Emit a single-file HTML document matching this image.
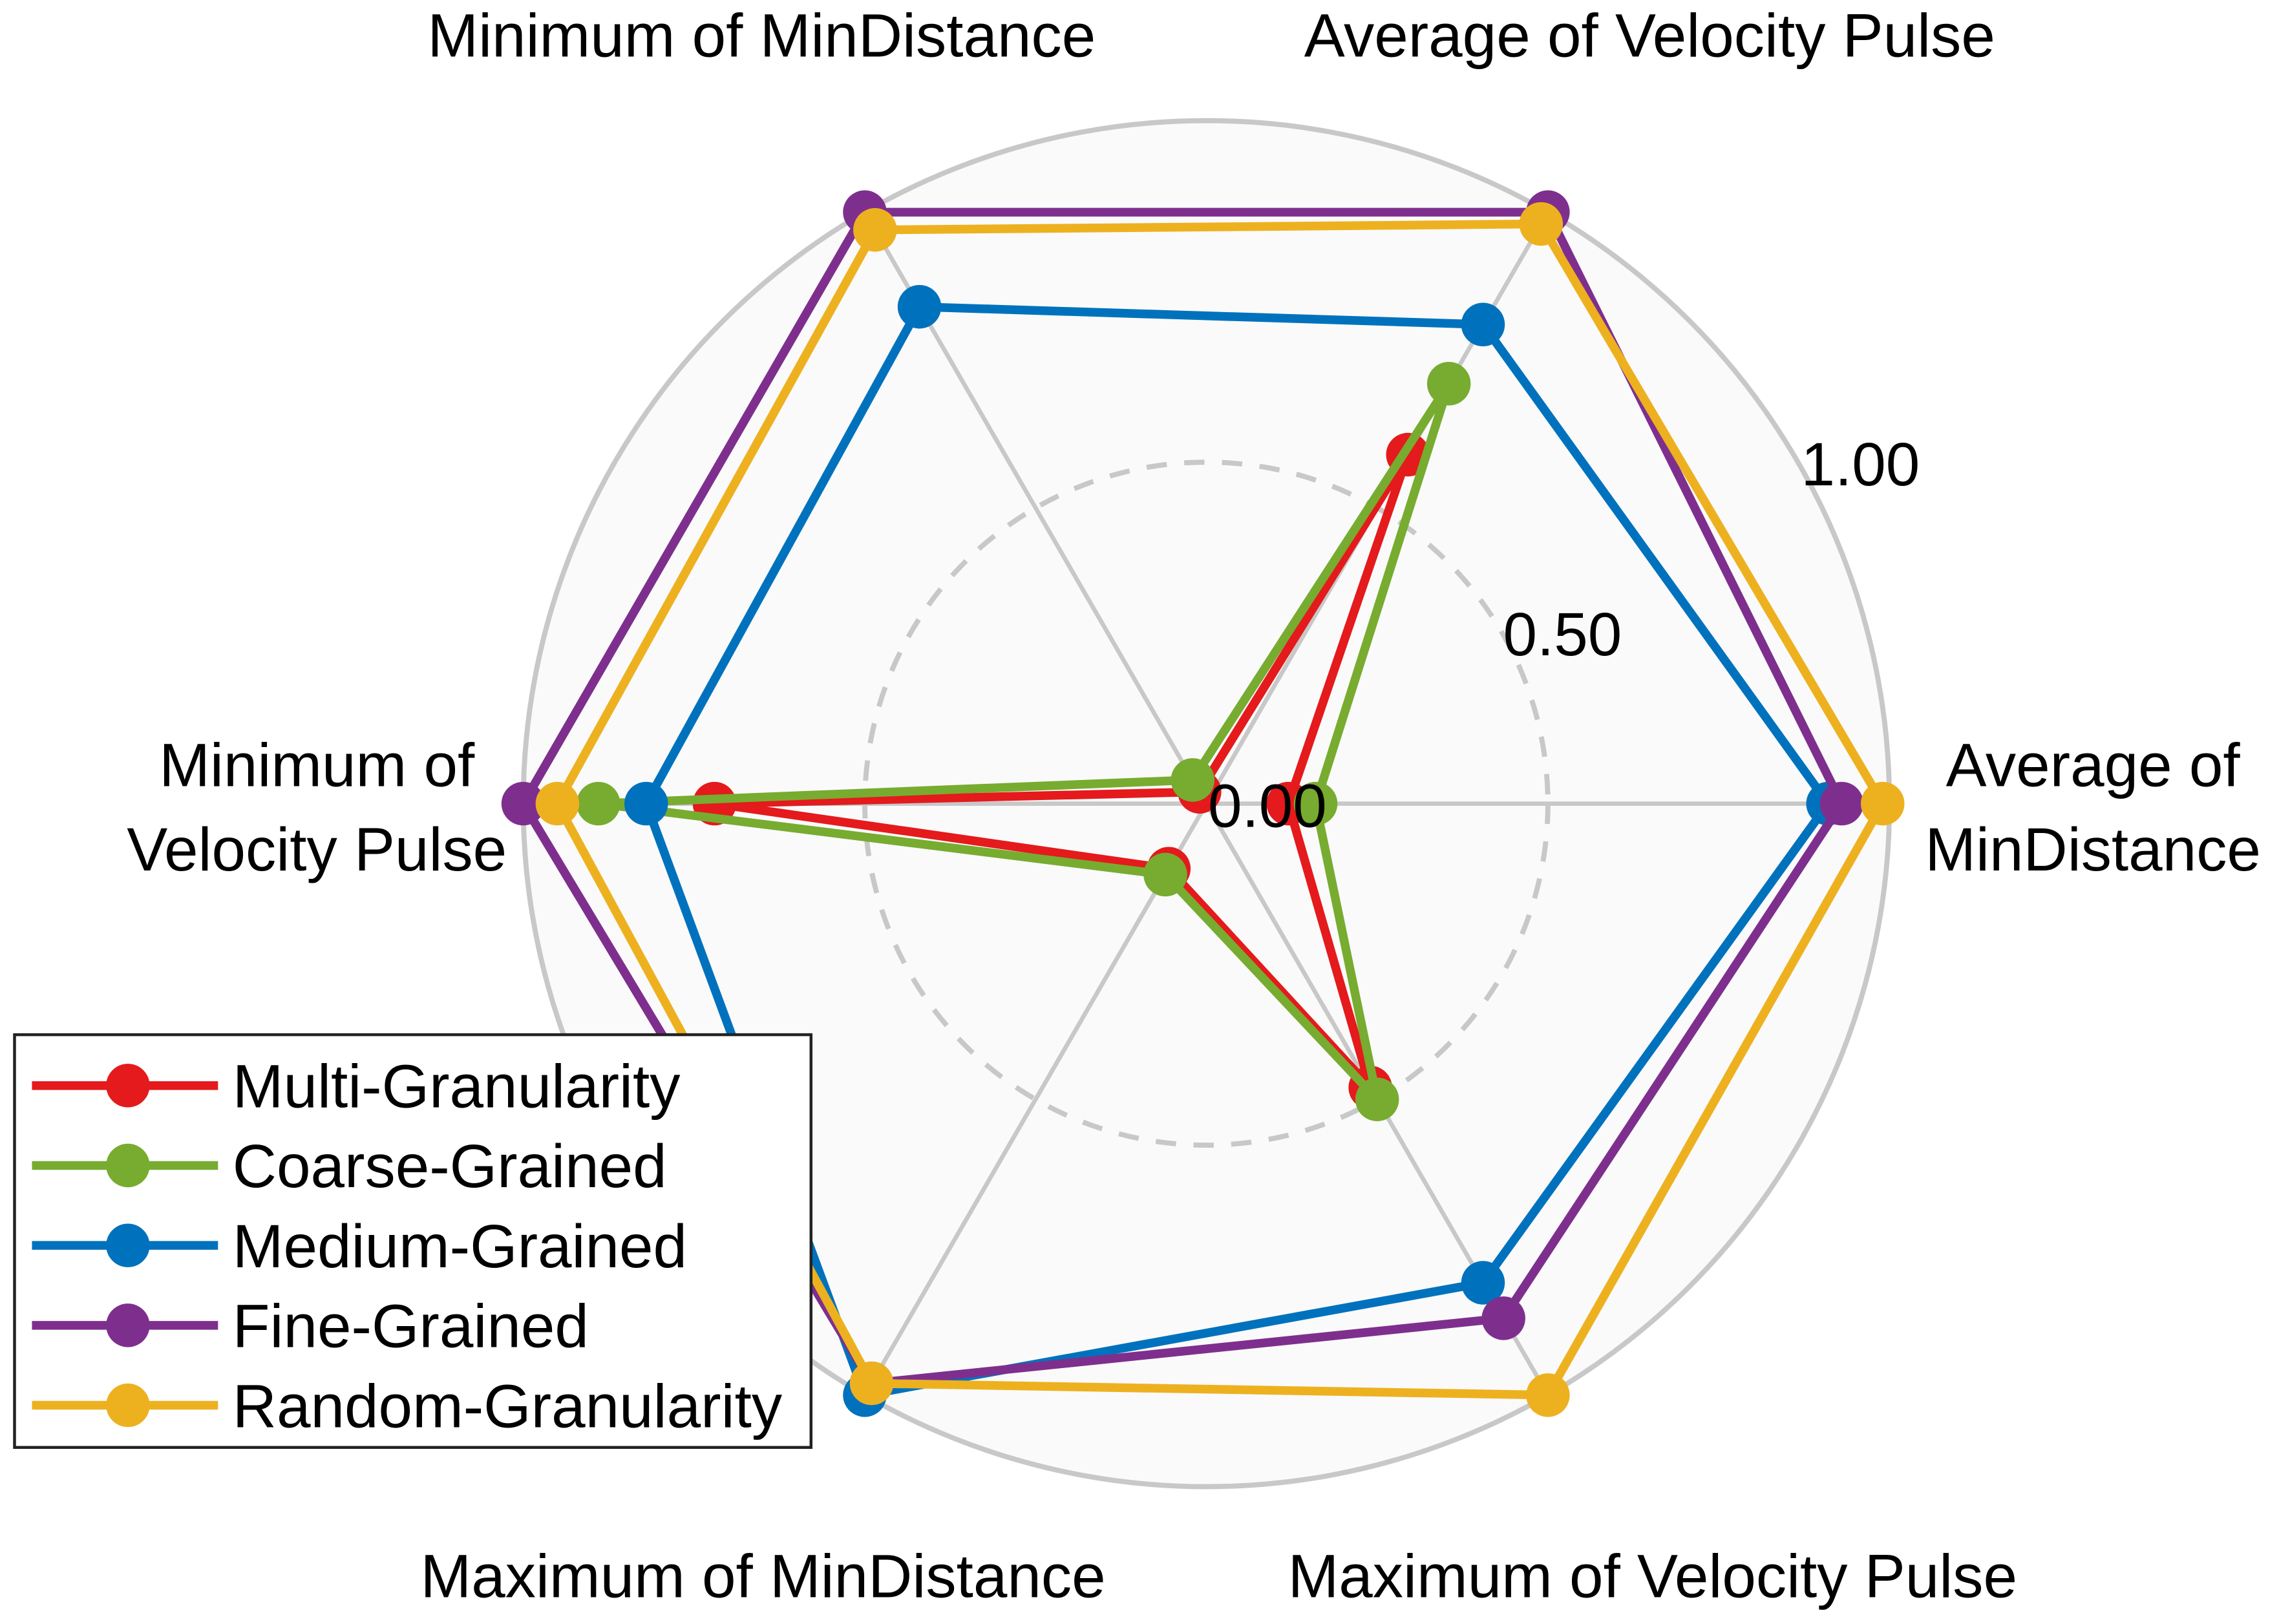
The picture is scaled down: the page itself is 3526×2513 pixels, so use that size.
<!DOCTYPE html>
<html><head><meta charset="utf-8"><style>
html,body{margin:0;padding:0;background:#fff;}
svg{display:block;font-family:"Liberation Sans",Arial,sans-serif;}
</style></head><body>
<svg id="chart" width="3526" height="2513" viewBox="0 0 1568 1117.5" xmlns="http://www.w3.org/2000/svg">
<g id="grid"></g>
<g id="series"></g>
<g id="labels"></g>
<g id="legend"></g>
</svg>
<script>
const categories = ["Average of MinDistance","Average of Velocity Pulse","Minimum of MinDistance","Minimum of Velocity Pulse","Maximum of MinDistance","Maximum of Velocity Pulse"];
const seriesNames = ["Multi-Granularity","Coarse-Grained","Medium-Grained","Fine-Grained","Random-Granularity"];
const multiValues  = [0.12,0.59,0.02,0.72,0.11,0.48];
const coarseValues = [0.16,0.71,0.04,0.89,0.12,0.50];
const mediumValues = [0.91,0.81,0.84,0.82,1.00,0.81];
const fineValues   = [0.93,1.00,1.00,1.00,0.98,0.87];
const randomValues = [0.99,0.98,0.97,0.95,0.98,1.00];
const tickValues = [0,0.5,1.0];
const tickLabels = ["0.00","0.50","1.00"];

const colors = ["#e41a1c","#77ac30","#0072bd","#7e2f8e","#edb120"];
const allSeries = [multiValues,coarseValues,mediumValues,fineValues,randomValues];
const NS="http://www.w3.org/2000/svg";
const cx=830, cy=553, R=470;
const FS=42;
function ang(i){return i*Math.PI/3;}
function px(i,v){return cx+Math.cos(ang(i))*v*R;}
function py(i,v){return cy-Math.sin(ang(i))*v*R;}
function mk(tag,attrs,parent){const e=document.createElementNS(NS,tag);for(const k in attrs)e.setAttribute(k,attrs[k]);parent.appendChild(e);return e;}

const grid=document.getElementById('grid');
const bg=mk('circle',{cx:cx,cy:cy,r:R,fill:'#fafafa',stroke:'#c8c8c8','stroke-width':3.5},grid);


const dash=mk('circle',{cx:cx,cy:cy,r:0.5*R,fill:'none',stroke:'#c8c8c8','stroke-width':3.5,'stroke-dasharray':'14 12'},grid);


categories.forEach((c,i)=>{
  const l=mk('line',{x1:cx,y1:cy,x2:px(i,1),y2:py(i,1),stroke:'#c8c8c8','stroke-width':3},grid);
  
  
});

const sg=document.getElementById('series');
allSeries.forEach((vals,s)=>{
  const g=mk('g',{},sg);
  
  
  const pts=vals.map((v,i)=>px(i,v).toFixed(1)+','+py(i,v).toFixed(1)).join(' ');
  const pl=mk('polygon',{points:pts,fill:'none',stroke:colors[s],'stroke-width':6,'stroke-linejoin':'round'},g);
  
  
  vals.forEach((v,i)=>{
    const m=mk('circle',{cx:px(i,v),cy:py(i,v),r:15,fill:colors[s]},g);
    
    
  });
});

const lg=document.getElementById('labels');
const tickPos=[[872,569],[1075,451],[1280,334]];
tickLabels.forEach((t,i)=>{
  const e=mk('text',{x:tickPos[i][0],y:tickPos[i][1],'font-size':FS,'text-anchor':'middle',fill:'#000'},lg);
  e.textContent=t;
  
  
});
const catPos=[[[1440,541],[1440,599]],[[1135,39]],[[524,39]],[[218,541],[218,599]],[[525,1099]],[[1137,1099]]];
const catLines=[["Average of","MinDistance"],[categories[1]],[categories[2]],["Minimum of","Velocity Pulse"],[categories[4]],[categories[5]]];
catLines.forEach((lines,i)=>{
  lines.forEach((t,j)=>{
    const e=mk('text',{x:catPos[i][j][0],y:catPos[i][j][1],'font-size':FS,'text-anchor':'middle',fill:'#000'},lg);
    e.textContent=t;
    
    
  });
});

const leg=document.getElementById('legend');
const box=mk('rect',{x:10,y:712,width:548,height:284,fill:'#fff',stroke:'#222','stroke-width':2},leg);


seriesNames.forEach((n,s)=>{
  const y=747+s*55;
  const g=mk('g',{},leg);
  
  
  mk('line',{x1:22,y1:y,x2:150,y2:y,stroke:colors[s],'stroke-width':6},g);
  mk('circle',{cx:88,cy:y,r:15,fill:colors[s]},g);
  const t=mk('text',{x:160,y:y+15,'font-size':FS,fill:'#000'},g);
  t.textContent=n;
});
</script>
</body></html>
